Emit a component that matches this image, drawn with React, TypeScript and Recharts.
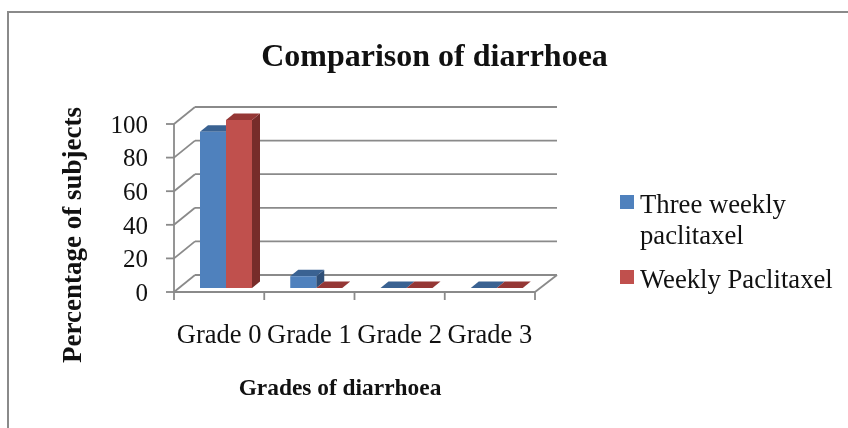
import { BarChart, Bar, XAxis, YAxis, CartesianGrid } from 'recharts';

const categories = ['Grade 0', 'Grade 1', 'Grade 2', 'Grade 3'];
const threeWeekly = [93, 7, 0, 0];
const weekly = [100, 0, 0, 0];
const yTicks = [0, 20, 40, 60, 80, 100];

const chartData = categories.map((grade, i) => ({
    grade,
    threeWeekly: threeWeekly[i],
    weekly: weekly[i],
}));

const FONT = '"Liberation Serif", "Times New Roman", serif';
const GREY = '#8a8a8a';
const LINE_W = 1.8;

// how far the back wall sits from the front of the 3D box
const WALL_DX = 21;
const WALL_DY = -17;
// bars stand a little inside the floor
const BAR_DX = 6.5;
const BAR_DY = -4;
const DEPTH_X = 8;
const DEPTH_Y = 6.5;

const COLORS = {
    blue: { front: '#4F81BD', top: '#3A6292', side: '#2F4F77' },
    red: { front: '#C0504D', top: '#953735', side: '#772C2A' },
};

function Bar3D(props: any) {
    const { x, y, width, height, tone } = props;
    const c = COLORS[tone as 'blue' | 'red'];
    const left = x + BAR_DX;
    const right = left + width;
    const top = y + BAR_DY;
    const bottom = top + height;
    return (
        <g>
            <polygon
                points={`${right},${top} ${right + DEPTH_X},${top - DEPTH_Y} ${right + DEPTH_X},${bottom - DEPTH_Y} ${right},${bottom}`}
                fill={c.side}
            />
            <polygon
                points={`${left},${top} ${left + DEPTH_X},${top - DEPTH_Y} ${right + DEPTH_X},${top - DEPTH_Y} ${right},${top}`}
                fill={c.top}
            />
            <rect x={left} y={top} width={width} height={height} fill={c.front} />
        </g>
    );
}

function WallLine(props: any) {
    const { x1, x2, y1 } = props;
    const isFloor = y1 > 280;
    return (
        <g stroke={GREY} strokeWidth={LINE_W} fill="none">
            <line x1={x1} y1={y1} x2={x1 + WALL_DX} y2={y1 + WALL_DY} />
            <line x1={x1 + WALL_DX} y1={y1 + WALL_DY} x2={x2 + WALL_DX + 1} y2={y1 + WALL_DY} />
            {isFloor && <line x1={x2} y1={y1} x2={x2 + WALL_DX + 1} y2={y1 + WALL_DY} />}
        </g>
    );
}

// Excel puts the tick marks between the categories, not under them
function GradeTick(props: any) {
    const { x, y, payload, index, visibleTicksCount } = props;
    const half = payload.offset;
    const axisY = y - 42;
    return (
        <g>
            <line x1={x - half} y1={axisY} x2={x - half} y2={axisY + 8} stroke={GREY} strokeWidth={LINE_W} />
            {index === visibleTicksCount - 1 && (
                <line x1={x + half} y1={axisY} x2={x + half} y2={axisY + 8} stroke={GREY} strokeWidth={LINE_W} />
            )}
            <text x={x} y={y} textAnchor="middle" dominantBaseline="central" fontFamily={FONT} fontSize={26.5} fill="#111">
                {payload.value}
            </text>
        </g>
    );
}

function LegendBox() {
    const textStyle = { fontFamily: FONT, fontSize: 26.7, color: '#111', lineHeight: '31px' };
    const swatch = (color: string, top: number) => (
        <div style={{ position: 'absolute', left: 0, top, width: 14, height: 14, background: color }} />
    );
    return (
        <div style={{ position: 'absolute', left: 620, top: 188, width: 228, height: 110 }}>
            {swatch(COLORS.blue.front, 7)}
            <div style={{ ...textStyle, position: 'absolute', left: 20, top: 1 }}>
                Three weekly
                <br />
                paclitaxel
            </div>
            {swatch(COLORS.red.front, 82)}
            <div style={{ ...textStyle, position: 'absolute', left: 20, top: 76, whiteSpace: 'nowrap' }}>
                Weekly Paclitaxel
            </div>
        </div>
    );
}

export default function App() {
    return (
        <div style={{ position: 'absolute', left: 0, top: 0, width: 848, height: 428, overflow: 'hidden', background: '#fff' }}>
            <div
                style={{
                    position: 'absolute',
                    left: 7,
                    top: 11,
                    width: 845,
                    height: 420,
                    borderLeft: `2px solid ${GREY}`,
                    borderTop: `2px solid ${GREY}`,
                }}
            />
            <div style={{ position: 'absolute', left: 0, top: 0, width: 848, height: 428, filter: 'blur(0.4px)' }}>
                <BarChart
                    width={848}
                    height={428}
                    data={chartData}
                    margin={{ top: 124, right: 313, bottom: 36, left: 114 }}
                    barCategoryGap={19.5}
                    barGap={0}
                >
                    <CartesianGrid vertical={false} horizontal={(p: any) => <WallLine key={p.key} {...p} />} />
                    <XAxis
                        dataKey="grade"
                        interval={0}
                        height={100}
                        tickLine={false}
                        tickMargin={36}
                        axisLine={{ stroke: GREY, strokeWidth: LINE_W }}
                        tick={<GradeTick />}
                    />
                    <YAxis
                        width={60}
                        domain={[0, 100]}
                        ticks={yTicks}
                        tickSize={8}
                        tickMargin={18}
                        axisLine={{ stroke: GREY, strokeWidth: LINE_W }}
                        tickLine={{ stroke: GREY, strokeWidth: LINE_W }}
                        tick={{ fontFamily: FONT, fontSize: 25, fill: '#111' }}
                    />
                    <Bar dataKey="threeWeekly" isAnimationActive={false} shape={(p: any) => <Bar3D {...p} tone="blue" />} />
                    <Bar dataKey="weekly" isAnimationActive={false} shape={(p: any) => <Bar3D {...p} tone="red" />} />
                    <text x={434.5} y={66} textAnchor="middle" fontFamily={FONT} fontWeight="bold" fontSize={32} fill="#111">
                        Comparison of diarrhoea
                    </text>
                    <text
                        x={81}
                        y={235}
                        textAnchor="middle"
                        transform="rotate(-90 81 235)"
                        fontFamily={FONT}
                        fontWeight="bold"
                        fontSize={27}
                        fill="#111"
                    >
                        Percentage of subjects
                    </text>
                    <text x={340} y={395} textAnchor="middle" fontFamily={FONT} fontWeight="bold" fontSize={23.4} fill="#111">
                        Grades of diarrhoea
                    </text>
                </BarChart>
                <LegendBox />
            </div>
        </div>
    );
}
